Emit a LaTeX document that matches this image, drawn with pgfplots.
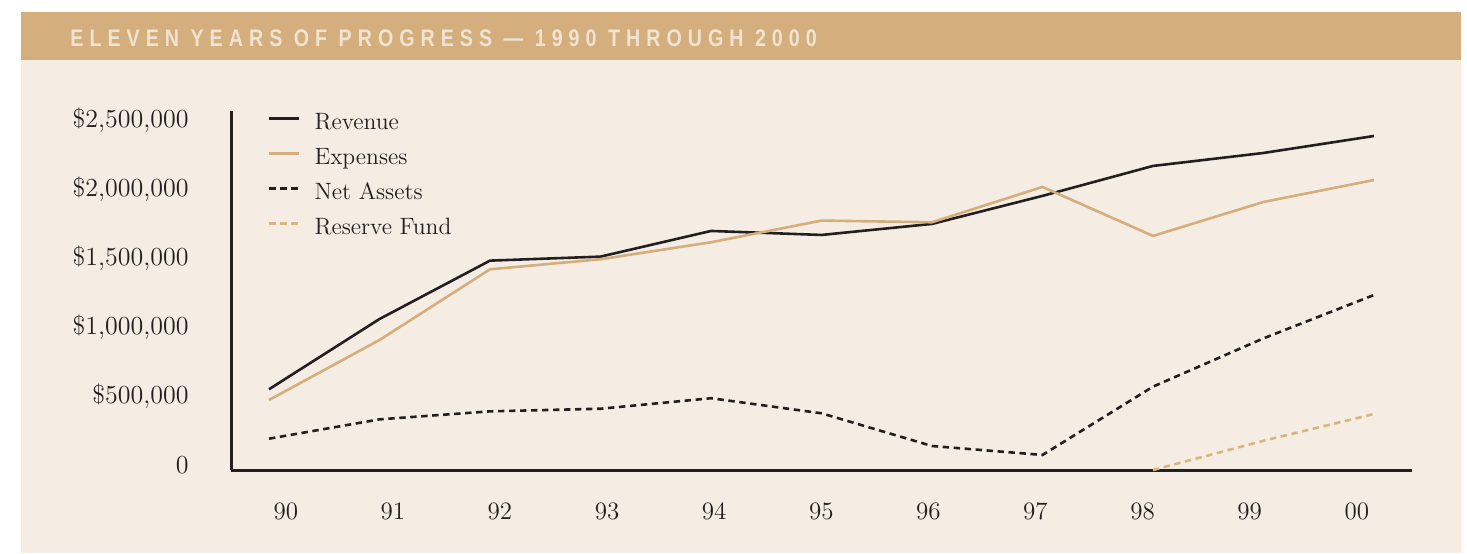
\documentclass[border=0pt]{standalone}
\usepackage{pgfplots}
\pgfplotsset{compat=1.18}
\usepackage{fontspec}
\newfontfamily\headfont[LetterSpace=25, FakeStretch=0.82]{Liberation Sans}
\definecolor{bg}{HTML}{F5EDE3}
\definecolor{band}{HTML}{D4AE7C}
\definecolor{headtxt}{HTML}{EFE3D1}
\definecolor{dark}{HTML}{231F20}
\definecolor{tanline}{HTML}{D4AE7C}
\definecolor{tanres}{HTML}{D9B582}

\pgfplotstableread{
x revenue expenses netassets
0 585000 507000 227000
1 1094000 942000 367000
2 1517000 1454000 425000
3 1546000 1527000 444000
4 1732000 1650000 520000
5 1703000 1807000 411000
6 1783000 1795000 174000
7 1986000 2051000 109000
8 2203000 1696000 604000
9 2297000 1942000 954000
10 2420000 2101000 1268000
}\maindata
\pgfplotstableread{
x reserve
8 0
9 212000
10 406000
}\reservedata

\begin{document}
\begin{tikzpicture}
\useasboundingbox (0,0) rectangle (733.5pt,-276.5pt);
\fill[white] (0,0) rectangle (733.5pt,-276.5pt);
\fill[bg] (10.5pt,-6pt) rectangle (730.5pt,-276.5pt);
\fill[band] (10.5pt,-6pt) rectangle (730.5pt,-30pt);
\node[anchor=base west, inner sep=0pt, text=headtxt, font=\headfont\bfseries\fontsize{12}{14}\selectfont] at (35pt,-23.35pt) {ELEVEN YEARS OF PROGRESS — 1990 THROUGH 2000};
\begin{axis}[
  at={(115.5pt,-235pt)}, anchor=south west,
  scale only axis, width=590.5pt, height=179.5pt,
  xmin=-0.344, xmax=10.344, ymin=0, ymax=2601000,
  scaled y ticks=false,
  axis x line=bottom, axis y line=left,
  axis line style={-, line width=1.5pt, dark},
  clip=false,
  major tick length=0pt,
  xtick={0.152,1.121,2.090,3.060,4.029,4.998,5.967,6.936,7.906,8.875,9.844},
  xticklabels={90,91,92,93,94,95,96,97,98,99,00},
  xticklabel style={anchor=base, yshift=-24.5pt, inner sep=0pt, text=dark, font=\fontsize{12.5}{14}\selectfont},
  ytick={0,500000,1000000,1500000,2000000,2500000},
  yticklabels={0,{\$500,000},{\$1,000,000},{\$1,500,000},{\$2,000,000},{\$2,500,000}},
  yticklabel style={anchor=base east, xshift=-21pt, yshift=-1.5pt, inner sep=0pt, text=dark, font=\fontsize{13}{15}\selectfont},
  legend cell align=left,
  legend style={draw=none, fill=none, at={(0.0313,1.0195)}, anchor=north west,
    inner sep=0pt, outer sep=0pt, row sep=0pt, column sep=7pt,
    font=\fontsize{11.8}{14}\selectfont, text=dark,
    nodes={inner sep=0pt, text height=12.5pt, text depth=5pt}},
  legend image code/.code={\path[draw=none,fill=none] (0pt,0pt) rectangle (15pt,8pt); \draw[#1] (0pt,1.5pt) -- (15pt,1.5pt);},
]
\addplot[dark, line width=1.3pt] table[x=x, y=revenue] {\maindata};
\addlegendentry{Revenue}
\addplot[tanline, line width=1.3pt] table[x=x, y=expenses] {\maindata};
\addlegendentry{Expenses}
\addplot[dark, line width=1.3pt, dash pattern=on 3.2pt off 2.3pt] table[x=x, y=netassets] {\maindata};
\addlegendentry{Net Assets}
\addplot[tanres, line width=1.3pt, dash pattern=on 3.2pt off 2.3pt] table[x=x, y=reserve] {\reservedata};
\addlegendentry{Reserve Fund}
\end{axis}
\end{tikzpicture}
\end{document}
